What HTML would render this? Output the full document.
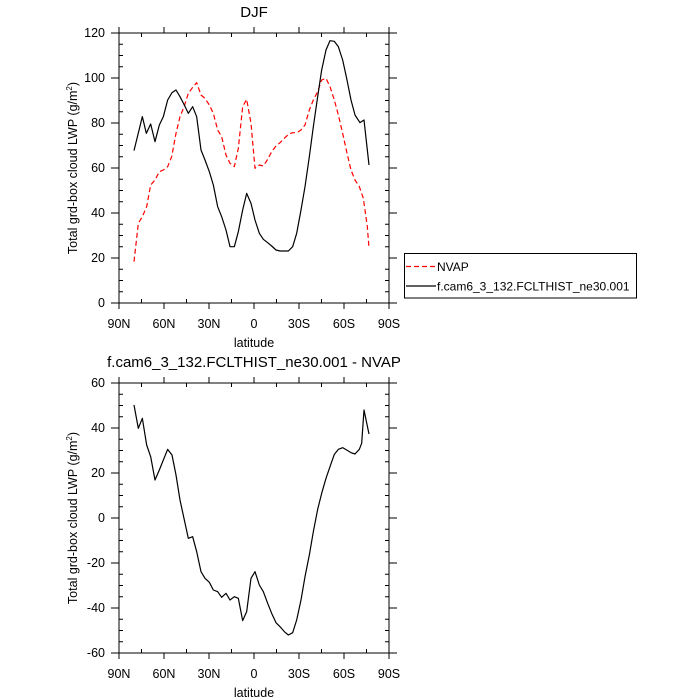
<!DOCTYPE html>
<html><head><meta charset="utf-8"><style>body{margin:0;background:#fff}svg{display:block}text{font-family:"Liberation Sans",sans-serif;fill:#000}</style></head><body>
<svg width="700" height="700" viewBox="0 0 700 700" xmlns="http://www.w3.org/2000/svg">
<rect width="700" height="700" fill="#fff"/>
<g stroke="#000" stroke-width="1" fill="none">
<rect x="119" y="33" width="270" height="270"/>
<rect x="119" y="383" width="270" height="270"/>
<path id="tk" d="M111 33H119M111 78H119M111 123H119M111 168H119M111 213H119M111 258H119M111 303H119M389 33H397M389 78H397M389 123H397M389 168H397M389 213H397M389 258H397M389 303H397
M119 44.25h4M119 55.5h4M119 66.75h4M119 89.25h4M119 100.5h4M119 111.75h4M119 134.25h4M119 145.5h4M119 156.75h4M119 179.25h4M119 190.5h4M119 201.75h4M119 224.25h4M119 235.5h4M119 246.75h4M119 269.25h4M119 280.5h4M119 291.75h4
M385 44.25h4M385 55.5h4M385 66.75h4M385 89.25h4M385 100.5h4M385 111.75h4M385 134.25h4M385 145.5h4M385 156.75h4M385 179.25h4M385 190.5h4M385 201.75h4M385 224.25h4M385 235.5h4M385 246.75h4M385 269.25h4M385 280.5h4M385 291.75h4
M119 33V27M164 33V27M209 33V27M254 33V27M299 33V27M344 33V27M389 33V27M119 303V309M164 303V309M209 303V309M254 303V309M299 303V309M344 303V309M389 303V309
M141.5 33v4M186.5 33v4M231.5 33v4M276.5 33v4M321.5 33v4M366.5 33v4M141.5 303v-4M186.5 303v-4M231.5 303v-4M276.5 303v-4M321.5 303v-4M366.5 303v-4"/>
</g>
<use href="#tk" transform="translate(0,350)"/>
<g stroke="#000" stroke-width="1" fill="none"><use href="#tk" transform="translate(0,350)"/></g>

<!-- top series -->
<g transform="translate(60,0) scale(0.3333333)" fill="none" stroke-linejoin="round">
<polyline vector-effect="non-scaling-stroke" stroke="#f00" stroke-width="1.2" stroke-dasharray="5,3" points="222,785 235,670 247,650 260,620 272,555 285,540 298,515 310,510 323,500 335,470 348,400 360,350 373,318 385,280 398,262 410,248 423,285 435,295 448,315 460,340 473,390 485,410 498,465 510,490 523,500 535,445 548,320 560,298 573,370 585,505 598,495 610,498 623,478 635,455 648,438 660,428 673,415 685,403 698,398 710,398 723,390 735,375 748,330 760,300 773,275 785,240 798,235 810,260 823,300 835,345 848,400 860,455 873,510 885,540 898,560 910,595 922,680 927,745"/>
<polyline vector-effect="non-scaling-stroke" stroke="#000" stroke-width="1.2" points="222,452 247,350 259,400 272,372 285,425 298,375 310,350 323,300 336,278 348,270 360,290 373,315 385,340 398,320 410,350 423,450 435,480 448,515 460,555 473,620 485,650 498,690 510,740 523,740 535,695 548,630 560,580 573,610 585,660 598,700 610,718 623,728 635,738 648,750 660,753 673,753 685,753 698,740 710,700 723,630 735,560 748,470 760,380 773,290 785,210 798,150 810,122 823,124 835,140 848,180 860,235 873,300 885,345 900,368 912,360 927,495"/>
</g>
<g transform="translate(60,350) scale(0.3333333)" fill="none" stroke-linejoin="round">
<polyline vector-effect="non-scaling-stroke" stroke="#000" stroke-width="1.2" points="222,165 235,235 247,205 260,285 272,320 285,390 298,360 310,330 323,298 336,315 348,375 360,450 373,510 385,565 398,560 410,605 423,665 435,685 448,697 460,720 473,725 485,742 498,730 510,750 523,740 535,745 548,812 560,785 573,685 585,665 598,705 610,725 623,760 635,790 648,818 660,830 673,845 685,855 698,848 710,810 723,750 735,680 748,615 760,545 773,478 785,430 798,385 810,350 823,313 835,298 848,293 860,300 873,308 885,312 898,298 905,280 912,180 927,252"/>
</g>

<!-- labels top -->
<text x="254" y="17" font-size="15" text-anchor="middle">DJF</text>
<g font-size="12.5" text-anchor="end">
<text x="105" y="37">120</text><text x="105" y="82">100</text><text x="105" y="127">80</text><text x="105" y="172">60</text><text x="105" y="217">40</text><text x="105" y="262">20</text><text x="105" y="307">0</text>
</g>
<g font-size="12.5" text-anchor="middle">
<text x="119" y="328">90N</text><text x="164" y="328">60N</text><text x="209" y="328">30N</text><text x="254" y="328">0</text><text x="299" y="328">30S</text><text x="344" y="328">60S</text><text x="389" y="328">90S</text>
<text x="254" y="347">latitude</text>
</g>
<text transform="translate(77,168) rotate(-90)" font-size="12.5" text-anchor="middle">Total grd-box cloud LWP (g/m<tspan font-size="8" dy="-5">2</tspan><tspan dy="5">)</tspan></text>

<!-- labels bottom -->
<text x="254" y="367" font-size="15" text-anchor="middle">f.cam6_3_132.FCLTHIST_ne30.001 - NVAP</text>
<g font-size="12.5" text-anchor="end">
<text x="105" y="387">60</text><text x="105" y="432">40</text><text x="105" y="477">20</text><text x="105" y="522">0</text><text x="105" y="567">-20</text><text x="105" y="612">-40</text><text x="105" y="657">-60</text>
</g>
<g font-size="12.5" text-anchor="middle">
<text x="119" y="678">90N</text><text x="164" y="678">60N</text><text x="209" y="678">30N</text><text x="254" y="678">0</text><text x="299" y="678">30S</text><text x="344" y="678">60S</text><text x="389" y="678">90S</text>
<text x="254" y="697">latitude</text>
</g>
<text transform="translate(77,518) rotate(-90)" font-size="12.5" text-anchor="middle">Total grd-box cloud LWP (g/m<tspan font-size="8" dy="-5">2</tspan><tspan dy="5">)</tspan></text>

<!-- legend -->
<rect x="404.5" y="253.5" width="232" height="44.5" fill="none" stroke="#000" stroke-width="1"/>
<line x1="406" y1="266.5" x2="436" y2="266.5" stroke="#f00" stroke-width="1.2" stroke-dasharray="5,3"/>
<line x1="406" y1="286" x2="436" y2="286" stroke="#000" stroke-width="1.2"/>
<text x="437" y="271" font-size="12">NVAP</text>
<text x="437" y="290.5" font-size="12">f.cam6_3_132.FCLTHIST_ne30.001</text>
</svg>
</body></html>
